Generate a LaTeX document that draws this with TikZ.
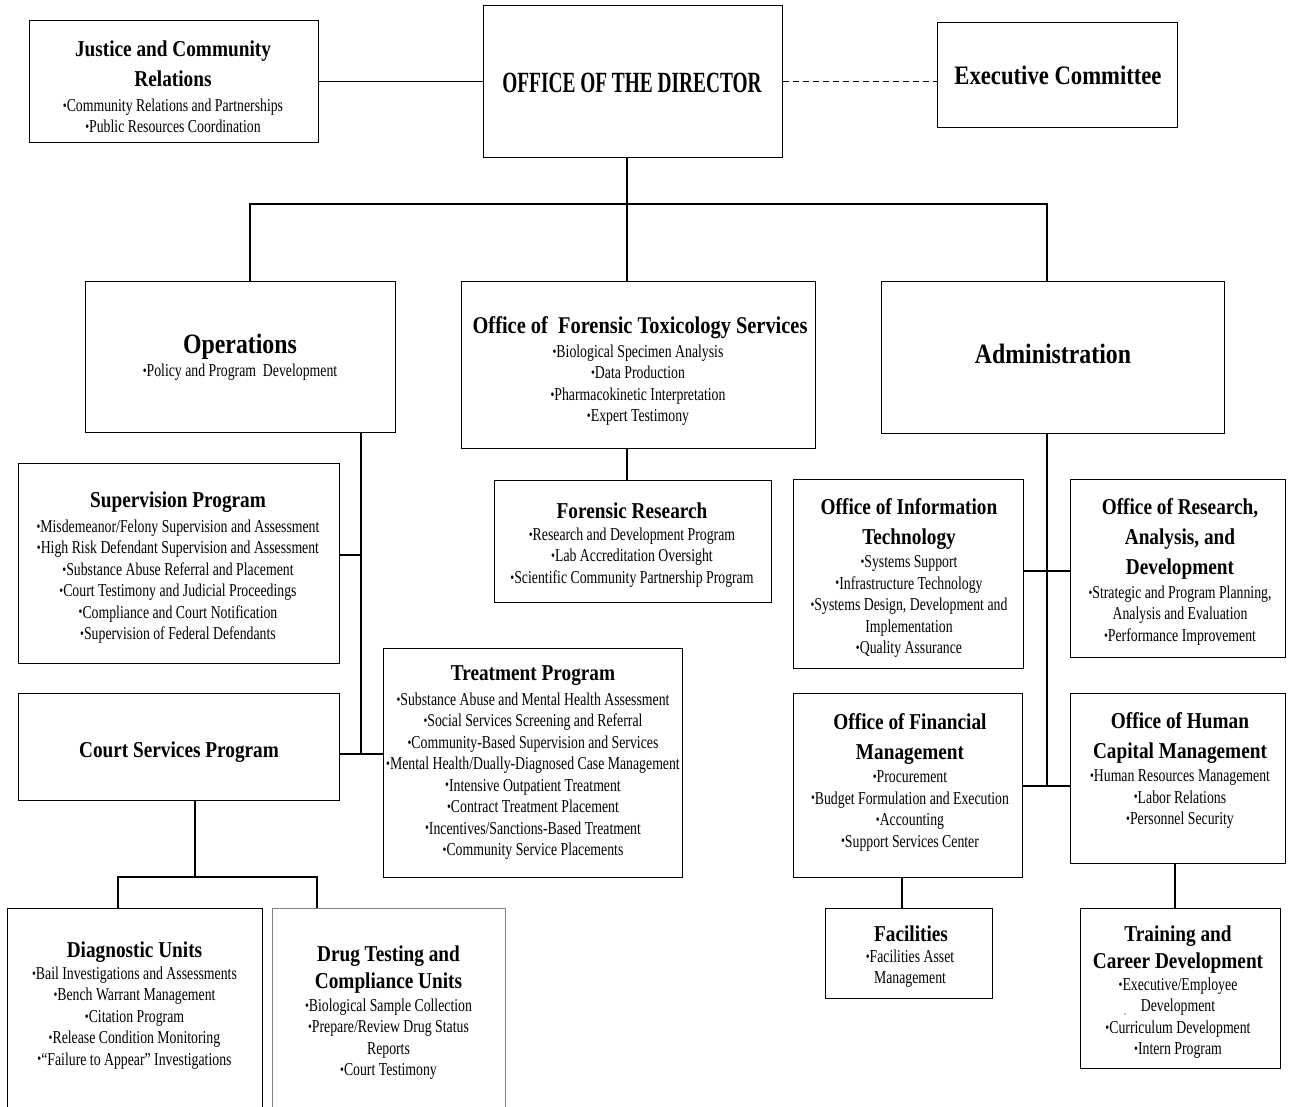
\documentclass[tikz,border=0pt]{standalone}
\usepackage{fontspec}
\setmainfont{Liberation Serif}
\newfontfamily\headfont{Liberation Serif}[FakeStretch=0.85]
\newfontfamily\itemfont{Liberation Serif}[FakeStretch=0.76]
\newfontfamily\topfont{Liberation Serif}[FakeStretch=0.66]
\newcommand\bt{\raisebox{.15ex}{\scalebox{.8}{•}}}
\newcommand\orgbox[6][]{\node[box,#1,minimum width={(#5-#3)*0.75pt},minimum height={(#6-#4)*0.75pt}] (#2) at (#3,#4) {};}

\begin{document}
\begin{tikzpicture}[x=0.75pt,y=-0.75pt,
	box/.style={draw,line width=1.1pt,inner sep=0pt,anchor=north west},
	head/.style={font=\headfont\bfseries\fontsize{17}{22.5}\selectfont,align=center,inner sep=0pt,anchor=north},
	item/.style={font=\itemfont\fontsize{13.6}{16.1}\selectfont,align=center,inner sep=0pt,anchor=north},
	link/.style={line width=1.1pt}]
	\useasboundingbox (0,0) rectangle (1295,1106);
	% boxes
	\orgbox{jcr}{29}{20}{318}{142}
	\orgbox{dir}{483}{5}{782}{157}
	\orgbox{exc}{937}{22}{1177}{127}
	\orgbox{ops}{85}{281}{395}{432}
	\orgbox{oft}{461}{281}{815}{448}
	\orgbox{adm}{881}{281}{1224}{433}
	\orgbox{frs}{494}{480}{771}{602}
	\orgbox{sup}{18}{463}{339}{663}
	\orgbox{csp}{18}{693}{339}{800}
	\orgbox{trt}{383}{648}{682}{877}
	\orgbox{dia}{7}{908}{262}{1125}
	\orgbox[draw=black!50]{drg}{272}{908}{505}{1125}
	\orgbox{oit}{793}{479}{1023}{668}
	\orgbox{ord}{1070}{479}{1285}{657}
	\orgbox{ofm}{793}{693}{1022}{877}
	\orgbox{ohc}{1070}{693}{1285}{863}
	\orgbox{fac}{825}{908}{992}{998}
	\orgbox{trn}{1080}{908}{1280}{1068}
	% top row
	\node[head] (jcrT) at (173,41) {Justice and Community\\Relations};
	\node[item] (jcrL) at (173,98.5) {\bt Community Relations and Partnerships\\\bt Public Resources Coordination};
	\node[head,font=\topfont\bfseries\fontsize{22}{26}\selectfont] (dirT) at (632,73) {OFFICE OF THE DIRECTOR};
	\node[head,font=\headfont\bfseries\fontsize{20}{24}\selectfont] (excT) at (1058,66) {Executive Committee};
	% second row
	\node[head,font=\headfont\bfseries\fontsize{21}{25}\selectfont] (opsT) at (240,333.5) {Operations};
	\node[item] (opsL) at (240,363.5) {\bt Policy and Program\ \ Development};
	\node[head,font=\headfont\bfseries\fontsize{18}{23}\selectfont] (oftT) at (640,316.5) {Office of\ \ Forensic Toxicology Services};
	\node[item] (oftL) at (638,344.5) {\bt Biological Specimen Analysis\\\bt Data Production\\\bt Pharmacokinetic Interpretation\\\bt Expert Testimony};
	\node[head,font=\headfont\bfseries\fontsize{21}{25}\selectfont] (admT) at (1053,343.5) {Administration};
	% operations side
	\node[head] (frsT) at (632,502) {Forensic Research};
	\node[item] (frsL) at (632,527.5) {\bt Research and Development Program\\\bt Lab Accreditation Oversight\\\bt Scientific Community Partnership Program};
	\node[head] (supT) at (178,492) {Supervision Program};
	\node[item] (supL) at (178,519.5) {\bt Misdemeanor/Felony\ Supervision and Assessment\\\bt High Risk Defendant Supervision and Assessment\\\bt Substance Abuse Referral and Placement\\\bt Court Testimony and Judicial Proceedings\\\bt Compliance and Court Notification\\\bt Supervision of Federal Defendants};
	\node[head] (cspT) at (179,741) {Court Services Program};
	\node[head] (trtT) at (533,665) {Treatment Program};
	\node[item] (trtL) at (533,692.5) {\bt Substance Abuse and Mental Health Assessment\\\bt Social Services Screening and Referral\\\bt Community-Based\ Supervision and Services\\\bt Mental Health/Dually-Diagnosed\ Case Management\\\bt Intensive Outpatient Treatment\\\bt Contract Treatment Placement\\\bt Incentives/Sanctions-Based\ Treatment\\\bt Community Service Placements};
	\node[head] (diaT) at (134.5,941) {Diagnostic Units};
	\node[item] (diaL) at (134.5,966.5) {\bt Bail Investigations and Assessments\\\bt Bench Warrant Management\\\bt Citation Program\\\bt Release Condition Monitoring\\\bt “Failure to Appear” Investigations};
	\node[head,font=\headfont\bfseries\fontsize{17}{20.5}\selectfont] (drgT) at (388.5,945) {Drug Testing and\\Compliance Units};
	\node[item] (drgL) at (388.5,998.5) {\bt Biological Sample Collection\\\bt Prepare/Review Drug Status\\Reports\\\bt Court Testimony};
	% administration side
	\node[head] (oitT) at (909,498) {Office of Information\\Technology};
	\node[item] (oitL) at (909,555.5) {\bt Systems Support\\\bt Infrastructure Technology\\\bt Systems Design, Development and\\Implementation\\\bt Quality Assurance};
	\node[head] (ordT) at (1180,498) {Office of Research,\\Analysis, and\\Development};
	\node[item] (ordL) at (1180,585.5) {\bt Strategic and Program\ Planning,\\Analysis and Evaluation\\\bt Performance Improvement};
	\node[head] (ofmT) at (910,713) {Office of Financial\\Management};
	\node[item] (ofmL) at (910,770.5) {\bt Procurement\\\bt Budget Formulation and Execution\\\bt Accounting\\\bt Support Services Center};
	\node[head] (ohcT) at (1180,712) {Office of Human\\Capital Management};
	\node[item] (ohcL) at (1180,769.5) {\bt Human Resources Management\\\bt Labor Relations\\\bt Personnel Security};
	\node[head] (facT) at (911,925) {Facilities};
	\node[item] (facL) at (910,949.5) {\bt Facilities Asset\\Management};
	\node[head,font=\headfont\bfseries\fontsize{17}{20.5}\selectfont] (trnT) at (1178,925) {Training and\\Career Development};
	\node[item] (trnL) at (1178,977.5) {\bt Executive/Employee\\Development\\\bt Curriculum Development\\\bt Intern Program};
	\fill (1125,1014) circle (0.7);
	% connectors
	\coordinate (jd) at (627,204);
	\coordinate (jl) at (250,204);
	\coordinate (jr) at (1047,204);
	\draw[link] (jcr.east) -- (jcr.east -| dir.west);
	\draw[link,dash pattern=on 4.5pt off 3pt] (dir.east) -- (dir.east -| exc.west);
	\draw[link] (jd |- dir.south) -- (jd |- oft.north);
	\draw[link] (jl |- ops.north) -- (jl) -- (jr) -- (jr |- adm.north);
	\draw[link] (jd |- oft.south) -- (jd |- frs.north);
	\coordinate (os) at (361,754);
	\coordinate (ss) at (361,555);
	\draw[link] (os |- ops.south) -- (os);
	\draw[link] (ss -| sup.east) -- (ss);
	\draw[link] (os -| csp.east) -- (os -| trt.west);
	\coordinate (cs) at (195,877);
	\coordinate (cl) at (118,877);
	\coordinate (cr) at (317,877);
	\draw[link] (cs |- csp.south) -- (cs);
	\draw[link] (cl |- dia.north) -- (cl) -- (cr) -- (cr |- drg.north);
	\coordinate (as) at (1047,786);
	\coordinate (ai) at (1047,571);
	\draw[link] (as |- adm.south) -- (as);
	\draw[link] (ai -| oit.east) -- (ai -| ord.west);
	\draw[link] (as -| ofm.east) -- (as -| ohc.west);
	\coordinate (fd) at (902,0);
	\coordinate (td) at (1175,0);
	\draw[link] (fd |- ofm.south) -- (fd |- fac.north);
	\draw[link] (td |- ohc.south) -- (td |- trn.north);
\end{tikzpicture}
\end{document}
